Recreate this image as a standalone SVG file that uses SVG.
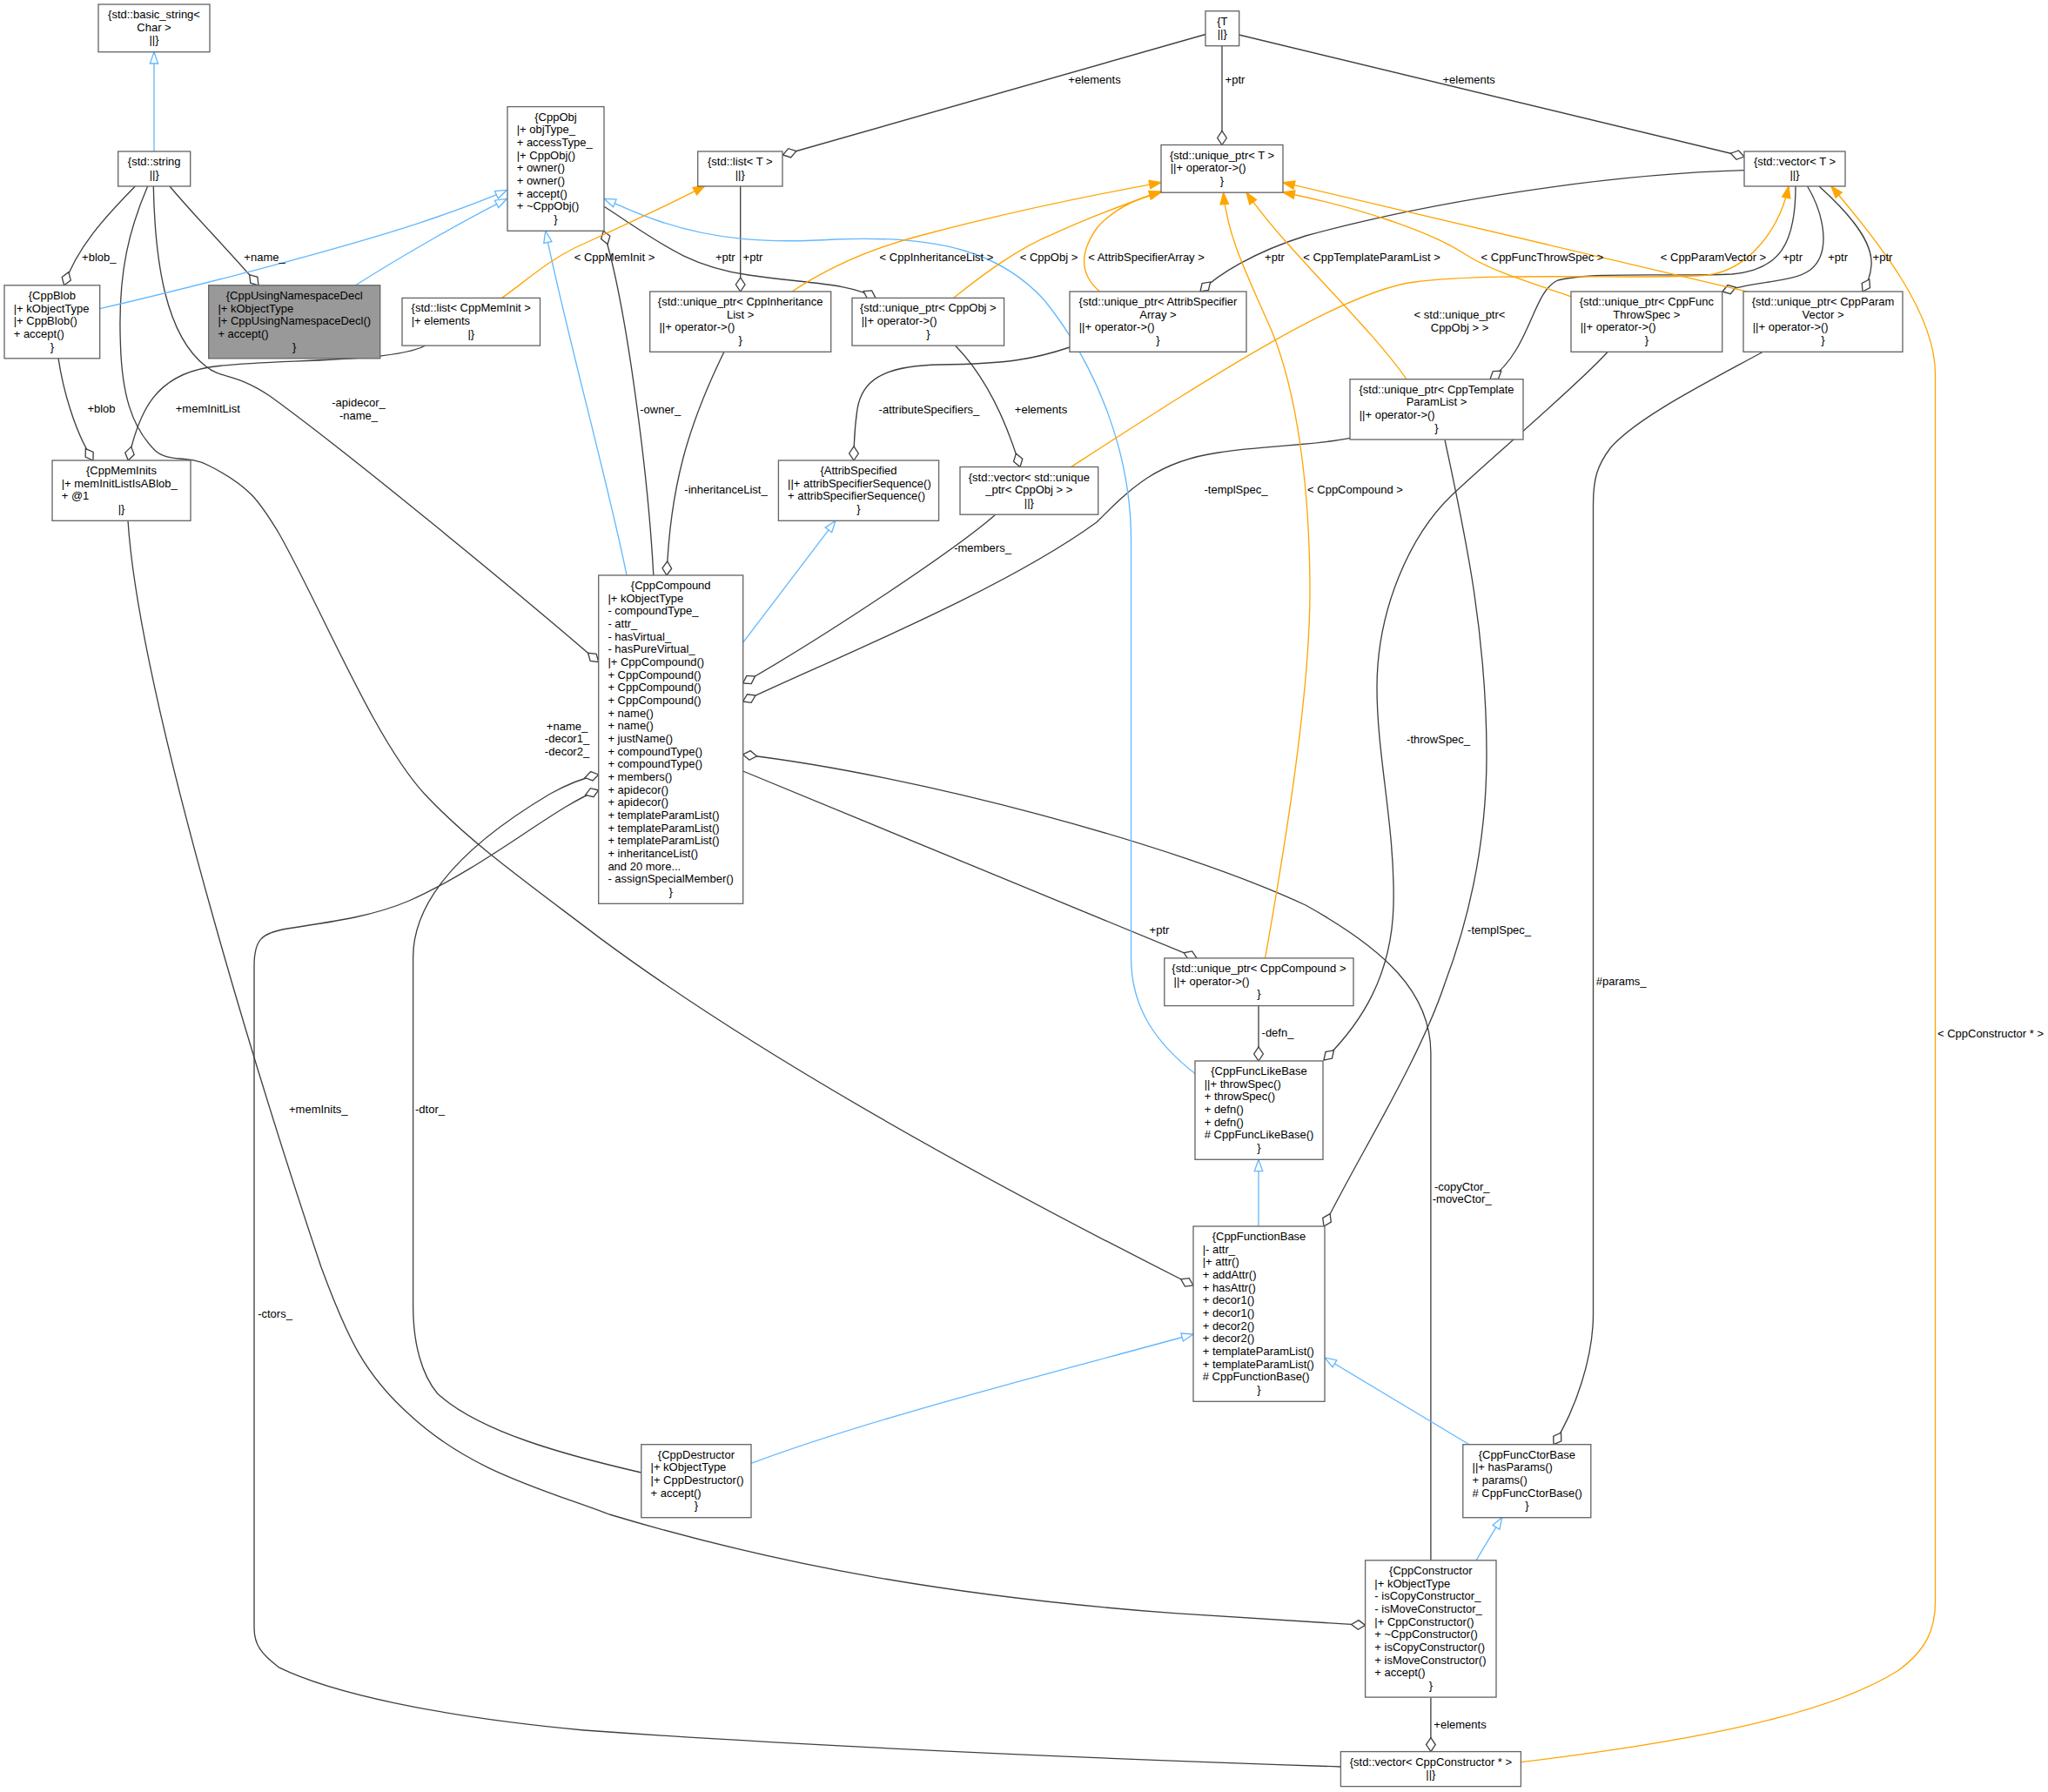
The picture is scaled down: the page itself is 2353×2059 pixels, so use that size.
<svg xmlns="http://www.w3.org/2000/svg" width="2353" height="2059" viewBox="0 0 2353 2059">
<style>
.n rect{fill:#ffffff;stroke:#666666;stroke-width:1.33}
.n.hl rect{fill:#999999}
text{font-family:"Liberation Sans",Arial,Helvetica,sans-serif;font-size:13px;fill:#000000}
.c{text-anchor:middle}
.e path{fill:none;stroke-width:1.33}
.e .u{stroke:#404040;marker-end:url(#dia)}
.e .i{stroke:#63b8ff;marker-end:url(#tri)}
.e .t{stroke:#ffa500;marker-end:url(#tro)}
</style>
<defs>
<marker id="dia" markerUnits="userSpaceOnUse" orient="auto" overflow="visible" refX="0" refY="0" markerWidth="1" markerHeight="1"><path d="M0,0 L-8,-5.33 L-16,0 L-8,5.33 Z" fill="#ffffff" stroke="#404040" stroke-width="1.33"/></marker>
<marker id="tri" markerUnits="userSpaceOnUse" orient="auto" overflow="visible" refX="0" refY="0" markerWidth="1" markerHeight="1"><path d="M0,0 L-13.33,-4.67 L-13.33,4.67 Z" fill="#ffffff" stroke="#63b8ff" stroke-width="1.33"/></marker>
<marker id="tro" markerUnits="userSpaceOnUse" orient="auto" overflow="visible" refX="0" refY="0" markerWidth="1" markerHeight="1"><path d="M0,0 L-13.33,-4.67 L-13.33,4.67 Z" fill="#ffa500" stroke="#ffa500" stroke-width="1.33"/></marker>
</defs>
<rect width="2353" height="2059" fill="#ffffff"/>
<g id="edges" class="e">
<path class="i" d="M177,174 L177,59.7"/>
<path class="u" d="M155.3,214 C120,250 88,285 73.7,327.8"/>
<path class="u" d="M195,214 C225,250 265,290 297,327.8"/>
<path class="u" d="M176.3,214 C178,300 190,385 236.6,421 C255,436 270,428 310,455 C400,520 600,685 687.7,760.7"/>
<path class="u" d="M169.6,214 C150,260 135,310 138.4,395 C140,450 150,490 178.6,518 C195,532 215,522 240,535 C290,560 300,580 320,612 C370,700 430,850 488,912.5 C540,968 600,1010 689,1077.6 C800,1160 1000,1290 1371,1477"/>
<path class="u" d="M67,411.6 C72,445 85,495 107,529"/>
<path class="u" d="M488.8,397 C450,418 300,412 240,422 C180,432 160,470 147.3,529"/>
<path class="u" d="M147,598.3 C160,800 300,1250 369,1456 C400,1540 420,1580 470,1625 C540,1690 620,1710 700,1740 C900,1800 1100,1835 1350,1853.7 C1450,1860 1510,1864 1568.6,1867.4"/>
<path class="u" d="M750.8,661 C745,550 720,350 693.3,265.3"/>
<path class="u" d="M694,237.3 C760,280 790,306 860,316 C930,326 975,325 1006,342.4"/>
<path class="u" d="M850.7,213.3 L850.7,335"/>
<path class="u" d="M1385,39.5 L899.5,178"/>
<path class="u" d="M1404,52.7 L1404,166.5"/>
<path class="u" d="M1423.5,40 L2004,180"/>
<path class="u" d="M831.7,404.7 C790,490 770,560 766,661"/>
<path class="u" d="M1229,399 C1190,412 1160,418 1080,419 C1010,420 990,440 985,470 C982,490 981,510 981,529"/>
<path class="u" d="M1097.5,397 C1130,430 1155,480 1172,536.5"/>
<path class="u" d="M1144,591 C1100,630 950,730 853.6,785"/>
<path class="u" d="M1551,503.4 C1510,512 1450,512 1400,520 C1330,530 1300,560 1260,600 C1150,680 950,760 853.6,806"/>
<path class="u" d="M853.6,886 L1375,1100.9"/>
<path class="u" d="M1643.9,1792.8 L1643.9,1210 C1643.9,1140 1590,1090 1500,1040 C1350,970 1050,890 853.6,867"/>
<path class="u" d="M1643.9,1950.6 L1643.9,2012.6"/>
<path class="u" d="M1446,1155.6 L1446,1219"/>
<path class="u" d="M1847,404.5 C1810,445 1720,520 1668,569 C1620,615 1582,700 1582,790 C1582,870 1603,950 1601,1040 C1599,1120 1565,1175 1521,1218"/>
<path class="u" d="M1660,505.3 C1680,600 1708,720 1708,868 C1708,960 1690,1050 1660,1130 C1630,1220 1560,1330 1521,1409"/>
<path class="u" d="M2025,404.5 C1960,440 1880,480 1850,515 C1835,535 1830.5,550 1830.5,580 L1830.5,1510 C1830.5,1560 1810,1620 1785,1659.7"/>
<path class="u" d="M2004,195.7 C1850,200 1650,230 1500,271 C1440,290 1400,315 1379,335"/>
<path class="u" d="M2063,214 C2063,280 2045,310 1990,315 C1920,318 1830,312 1790,322 C1760,335 1760,400 1712,435.7"/>
<path class="u" d="M2076.6,214 C2095,245 2105,290 2080,310 C2060,325 2020,322 1979,335"/>
<path class="u" d="M2090,214 C2130,250 2152,280 2150,305 C2149,318 2145,326 2140,335"/>
<path class="u" d="M736.8,1692 C650,1672 550,1645 502.5,1601 C485,1580 474.6,1545 474.6,1500 L474.6,1100 C474.6,1020 560,955 631.4,912.5 C650,902 670,894 687.7,890"/>
<path class="u" d="M1540.4,2030 C1300,2022 950,2008 671,1988 C500,1972 380,1945 320,1915.6 C300,1900 292,1890 292,1870 L292,1110 C292,1080 300,1072 330,1067 C390,1058 430,1052 470,1035 C560,995 640,925 687.7,908"/>
<path class="i" d="M114.7,354.7 C200,335 400,285 500,250 C540,236 570,224 582.5,218.3"/>
<path class="i" d="M408.5,327.8 C460,295 530,255 582.5,228.3"/>
<path class="i" d="M720,661 C700,560 650,380 626.7,265.3"/>
<path class="i" d="M1373.5,1234 C1330,1200 1299.5,1160 1299.5,1100 L1299.5,620 C1299.5,520 1260,420 1200,345 C1150,290 1080,270 960,275 C880,280 820,275 760,255 C730,245 710,235 694,228.3"/>
<path class="i" d="M853.6,738.4 L960,598.3"/>
<path class="i" d="M1446,1409 L1446,1332.3"/>
<path class="i" d="M863,1681.4 C1000,1630 1200,1580 1371,1533"/>
<path class="i" d="M1688,1659.7 L1522,1560"/>
<path class="i" d="M1696,1792.8 L1725.8,1743.4"/>
<path class="t" d="M576.7,342.4 C610,318 630,300 660,285 C710,262 770,235 810,213.3"/>
<path class="t" d="M910,335 C940,315 990,288 1060,270 C1150,246 1250,225 1334,209.6"/>
<path class="t" d="M1095.4,342.4 C1130,315 1170,285 1210,268.9 C1250,250 1300,232 1334,220"/>
<path class="t" d="M1263.8,335.3 C1240,315 1240,290 1261,261 C1280,240 1305,228 1334,221"/>
<path class="t" d="M1453.6,1100.9 C1475,980 1505,800 1505,680 C1505,560 1490,450 1461,380 C1430,310 1410,270 1405.6,221.2"/>
<path class="t" d="M1616,435.7 C1570,370 1480,290 1432,221.2"/>
<path class="t" d="M1805,340.8 C1750,322 1710,310 1680,290 C1640,265 1560,238 1474,221"/>
<path class="t" d="M2008.6,335.3 L1474,209.6"/>
<path class="t" d="M1230.6,536.5 C1380,440 1540,335 1625,324 C1720,312 1900,322 1962,316 C2010,310 2045,262 2055,214"/>
<path class="t" d="M1747.3,2024.7 C1950,2000 2100,1970 2180,1920 C2215,1895 2223.5,1870 2223.5,1840 L2223.5,430 C2223.5,360 2160,280 2104,214"/>
<g id="edge-labels">
<text class="c" x="113.8" y="300.3">+blob_</text>
<text class="c" x="304" y="300.3">+name_</text>
<text class="c" x="412" y="467">-apidecor_</text>
<text class="c" x="412" y="481.7">-name_</text>
<text class="c" x="116.5" y="474.2">+blob</text>
<text class="c" x="238.8" y="474.2">+memInitList</text>
<text class="c" x="706" y="300.3">&lt; CppMemInit &gt;</text>
<text class="c" x="833.3" y="300.3">+ptr</text>
<text class="c" x="865" y="300.3">+ptr</text>
<text class="c" x="1257.5" y="95.5">+elements</text>
<text class="c" x="1419" y="95.5">+ptr</text>
<text class="c" x="1687.7" y="95.5">+elements</text>
<text class="c" x="1076" y="300.3">&lt; CppInheritanceList &gt;</text>
<text class="c" x="1205" y="300.3">&lt; CppObj &gt;</text>
<text class="c" x="1317" y="300.3">&lt; AttribSpecifierArray &gt;</text>
<text class="c" x="1464.5" y="300.3">+ptr</text>
<text class="c" x="1576" y="300.3">&lt; CppTemplateParamList &gt;</text>
<text class="c" x="1772" y="300.3">&lt; CppFuncThrowSpec &gt;</text>
<text class="c" x="1968.5" y="300.3">&lt; CppParamVector &gt;</text>
<text class="c" x="2059.6" y="300.3">+ptr</text>
<text class="c" x="2111.6" y="300.3">+ptr</text>
<text class="c" x="2163" y="300.3">+ptr</text>
<text class="c" x="1677" y="366.3">&lt; std::unique_ptr&lt;</text>
<text class="c" x="1677" y="380.9">CppObj &gt; &gt;</text>
<text class="c" x="758.7" y="474.9">-owner_</text>
<text class="c" x="1067.4" y="474.5">-attributeSpecifiers_</text>
<text class="c" x="1196" y="474.5">+elements</text>
<text class="c" x="834" y="566.8">-inheritanceList_</text>
<text class="c" x="1420" y="566.8">-templSpec_</text>
<text class="c" x="1557" y="567">&lt; CppCompound &gt;</text>
<text class="c" x="1129" y="633.5">-members_</text>
<text class="c" x="651.5" y="838.9">+name_</text>
<text class="c" x="651.5" y="853.1">-decor1_</text>
<text class="c" x="651.5" y="867.9">-decor2_</text>
<text class="c" x="1652.6" y="853.5">-throwSpec_</text>
<text class="c" x="1722.6" y="1073.3">-templSpec_</text>
<text class="c" x="1862.7" y="1131.5">#params_</text>
<text class="c" x="1332" y="1073.2">+ptr</text>
<text class="c" x="1468" y="1191.2">-defn_</text>
<text class="c" x="1679.7" y="1367.5">-copyCtor_</text>
<text class="c" x="1679.7" y="1382">-moveCtor_</text>
<text class="c" x="365.8" y="1278.5">+memInits_</text>
<text class="c" x="494" y="1278.5">-dtor_</text>
<text class="c" x="316" y="1513.5">-ctors_</text>
<text class="c" x="1677.5" y="1985.5">+elements</text>
<text class="c" x="2287" y="1191.5">&lt; CppConstructor * &gt;</text>
</g>
</g>
<g id="node-basic_string" class="n"><rect x="113" y="5" width="128" height="54.7"/>
<text class="c" x="177" y="21">{std::basic_string&lt;</text><text class="c" x="177" y="35.7">Char &gt;</text><text class="c" x="177" y="50.3">||}</text></g>
<g id="node-string" class="n"><rect x="135.7" y="174" width="83" height="40"/>
<text class="c" x="177.2" y="190">{std::string</text><text class="c" x="177.2" y="204.7">||}</text></g>
<g id="node-T" class="n"><rect x="1385" y="12.7" width="38.7" height="40"/>
<text class="c" x="1404.3" y="28.7">{T</text><text class="c" x="1404.3" y="43.4">||}</text></g>
<g id="node-listT" class="n"><rect x="801.7" y="174" width="97.3" height="40"/>
<text class="c" x="850.3" y="190">{std::list&lt; T &gt;</text><text class="c" x="850.3" y="204.7">||}</text></g>
<g id="node-uptrT" class="n"><rect x="1334" y="166.5" width="140" height="54.7"/>
<text class="c" x="1404" y="182.5">{std::unique_ptr&lt; T &gt;</text><text x="1344.7" y="197.2">||+ operator-&gt;()</text><text class="c" x="1404" y="211.8">}</text></g>
<g id="node-vecT" class="n"><rect x="2004" y="174" width="116" height="40"/>
<text class="c" x="2062" y="190">{std::vector&lt; T &gt;</text><text class="c" x="2062" y="204.7">||}</text></g>
<g id="node-CppObj" class="n"><rect x="583" y="122.6" width="111" height="142.7"/>
<text class="c" x="638.5" y="138.6">{CppObj</text>
<text x="593.7" y="153.3">|+ objType_</text>
<text x="593.7" y="167.9">+ accessType_</text>
<text x="593.7" y="182.6">|+ CppObj()</text>
<text x="593.7" y="197.3">+ owner()</text>
<text x="593.7" y="211.9">+ owner()</text>
<text x="593.7" y="226.6">+ accept()</text>
<text x="593.7" y="241.3">+ ~CppObj()</text>
<text class="c" x="638.5" y="255.9">}</text></g>
<g id="node-CppBlob" class="n"><rect x="5" y="327.8" width="109.7" height="84"/>
<text class="c" x="59.85" y="343.8">{CppBlob</text>
<text x="15.7" y="358.5">|+ kObjectType</text>
<text x="15.7" y="373.1">|+ CppBlob()</text>
<text x="15.7" y="387.8">+ accept()</text>
<text class="c" x="59.85" y="402.5">}</text></g>
<g id="node-CppUsingNamespaceDecl" class="n hl"><rect x="239.7" y="327.8" width="197" height="84"/>
<text class="c" x="338.2" y="343.8">{CppUsingNamespaceDecl</text>
<text x="250.4" y="358.5">|+ kObjectType</text>
<text x="250.4" y="373.1">|+ CppUsingNamespaceDecl()</text>
<text x="250.4" y="387.8">+ accept()</text>
<text class="c" x="338.2" y="402.5">}</text></g>
<g id="node-listMemInit" class="n"><rect x="462" y="342.4" width="158.5" height="54.7"/>
<text class="c" x="541.25" y="358.4">{std::list&lt; CppMemInit &gt;</text>
<text x="472.7" y="373.1">|+ elements</text>
<text class="c" x="541.25" y="387.7">|}</text></g>
<g id="node-uptrInheritanceList" class="n"><rect x="746.7" y="335" width="208" height="69.3"/>
<text class="c" x="850.7" y="351">{std::unique_ptr&lt; CppInheritance</text>
<text class="c" x="850.7" y="365.7">List &gt;</text>
<text x="757.4" y="380.3">||+ operator-&gt;()</text>
<text class="c" x="850.7" y="395">}</text></g>
<g id="node-uptrCppObj" class="n"><rect x="979" y="342.4" width="174.6" height="54.7"/>
<text class="c" x="1066.3" y="358.4">{std::unique_ptr&lt; CppObj &gt;</text>
<text x="989.7" y="373.1">||+ operator-&gt;()</text>
<text class="c" x="1066.3" y="387.7">}</text></g>
<g id="node-uptrAttribSpecifierArray" class="n"><rect x="1229" y="335" width="203" height="69.3"/>
<text class="c" x="1330.5" y="351">{std::unique_ptr&lt; AttribSpecifier</text>
<text class="c" x="1330.5" y="365.7">Array &gt;</text>
<text x="1239.7" y="380.3">||+ operator-&gt;()</text>
<text class="c" x="1330.5" y="395">}</text></g>
<g id="node-uptrThrowSpec" class="n"><rect x="1805" y="335" width="173.7" height="69.3"/>
<text class="c" x="1891.85" y="351">{std::unique_ptr&lt; CppFunc</text>
<text class="c" x="1891.85" y="365.7">ThrowSpec &gt;</text>
<text x="1815.7" y="380.3">||+ operator-&gt;()</text>
<text class="c" x="1891.85" y="395">}</text></g>
<g id="node-uptrParamVector" class="n"><rect x="2003" y="335" width="183" height="69.3"/>
<text class="c" x="2094.5" y="351">{std::unique_ptr&lt; CppParam</text>
<text class="c" x="2094.5" y="365.7">Vector &gt;</text>
<text x="2013.7" y="380.3">||+ operator-&gt;()</text>
<text class="c" x="2094.5" y="395">}</text></g>
<g id="node-uptrTemplateParamList" class="n"><rect x="1551" y="435.7" width="199" height="69.3"/>
<text class="c" x="1650.5" y="451.7">{std::unique_ptr&lt; CppTemplate</text>
<text class="c" x="1650.5" y="466.4">ParamList &gt;</text>
<text x="1561.7" y="481">||+ operator-&gt;()</text>
<text class="c" x="1650.5" y="495.7">}</text></g>
<g id="node-CppMemInits" class="n"><rect x="60" y="529" width="159" height="69.3"/>
<text class="c" x="139.5" y="545">{CppMemInits</text>
<text x="70.7" y="559.7">|+ memInitListIsABlob_</text>
<text x="70.7" y="574.3">+ @1</text>
<text class="c" x="139.5" y="589">|}</text></g>
<g id="node-AttribSpecified" class="n"><rect x="894.4" y="529" width="184.2" height="69.3"/>
<text class="c" x="986.5" y="545">{AttribSpecified</text>
<text x="905.1" y="559.7">||+ attribSpecifierSequence()</text>
<text x="905.1" y="574.3">+ attribSpecifierSequence()</text>
<text class="c" x="986.5" y="589">}</text></g>
<g id="node-vecUptrCppObj" class="n"><rect x="1103" y="536.5" width="158.7" height="54.7"/>
<text class="c" x="1182.35" y="552.5">{std::vector&lt; std::unique</text>
<text class="c" x="1182.35" y="567.2">_ptr&lt; CppObj &gt; &gt;</text>
<text class="c" x="1182.35" y="581.8">||}</text></g>
<g id="node-CppCompound" class="n"><rect x="687.7" y="661" width="166" height="377.3"/>
<text class="c" x="770.7" y="677">{CppCompound</text>
<text x="698.4" y="691.7">|+ kObjectType</text>
<text x="698.4" y="706.3">- compoundType_</text>
<text x="698.4" y="721">- attr_</text>
<text x="698.4" y="735.7">- hasVirtual_</text>
<text x="698.4" y="750.3">- hasPureVirtual_</text>
<text x="698.4" y="765">|+ CppCompound()</text>
<text x="698.4" y="779.7">+ CppCompound()</text>
<text x="698.4" y="794.3">+ CppCompound()</text>
<text x="698.4" y="809">+ CppCompound()</text>
<text x="698.4" y="823.7">+ name()</text>
<text x="698.4" y="838.3">+ name()</text>
<text x="698.4" y="853">+ justName()</text>
<text x="698.4" y="867.7">+ compoundType()</text>
<text x="698.4" y="882.3">+ compoundType()</text>
<text x="698.4" y="897">+ members()</text>
<text x="698.4" y="911.7">+ apidecor()</text>
<text x="698.4" y="926.3">+ apidecor()</text>
<text x="698.4" y="941">+ templateParamList()</text>
<text x="698.4" y="955.7">+ templateParamList()</text>
<text x="698.4" y="970.3">+ templateParamList()</text>
<text x="698.4" y="985">+ inheritanceList()</text>
<text x="698.4" y="999.7">and 20 more...</text>
<text x="698.4" y="1014.3">- assignSpecialMember()</text>
<text class="c" x="770.7" y="1029">}</text></g>
<g id="node-uptrCppCompound" class="n"><rect x="1337.8" y="1100.9" width="217.2" height="54.7"/>
<text class="c" x="1446.4" y="1116.9">{std::unique_ptr&lt; CppCompound &gt;</text>
<text x="1348.5" y="1131.6">||+ operator-&gt;()</text>
<text class="c" x="1446.4" y="1146.2">}</text></g>
<g id="node-CppFuncLikeBase" class="n"><rect x="1373" y="1219" width="147" height="113.3"/>
<text class="c" x="1446.5" y="1235">{CppFuncLikeBase</text>
<text x="1383.7" y="1249.7">||+ throwSpec()</text>
<text x="1383.7" y="1264.3">+ throwSpec()</text>
<text x="1383.7" y="1279">+ defn()</text>
<text x="1383.7" y="1293.7">+ defn()</text>
<text x="1383.7" y="1308.3"># CppFuncLikeBase()</text>
<text class="c" x="1446.5" y="1323">}</text></g>
<g id="node-CppFunctionBase" class="n"><rect x="1371" y="1409" width="151" height="201.3"/>
<text class="c" x="1446.5" y="1425">{CppFunctionBase</text>
<text x="1381.7" y="1439.7">|- attr_</text>
<text x="1381.7" y="1454.3">|+ attr()</text>
<text x="1381.7" y="1469">+ addAttr()</text>
<text x="1381.7" y="1483.7">+ hasAttr()</text>
<text x="1381.7" y="1498.3">+ decor1()</text>
<text x="1381.7" y="1513">+ decor1()</text>
<text x="1381.7" y="1527.7">+ decor2()</text>
<text x="1381.7" y="1542.3">+ decor2()</text>
<text x="1381.7" y="1557">+ templateParamList()</text>
<text x="1381.7" y="1571.7">+ templateParamList()</text>
<text x="1381.7" y="1586.3"># CppFunctionBase()</text>
<text class="c" x="1446.5" y="1601">}</text></g>
<g id="node-CppDestructor" class="n"><rect x="736.8" y="1659.7" width="126.2" height="84"/>
<text class="c" x="799.9" y="1675.7">{CppDestructor</text>
<text x="747.5" y="1690.4">|+ kObjectType</text>
<text x="747.5" y="1705">|+ CppDestructor()</text>
<text x="747.5" y="1719.7">+ accept()</text>
<text class="c" x="799.9" y="1734.4">}</text></g>
<g id="node-CppFuncCtorBase" class="n"><rect x="1680.8" y="1659.7" width="147" height="84"/>
<text class="c" x="1754.3" y="1675.7">{CppFuncCtorBase</text>
<text x="1691.5" y="1690.4">||+ hasParams()</text>
<text x="1691.5" y="1705">+ params()</text>
<text x="1691.5" y="1719.7"># CppFuncCtorBase()</text>
<text class="c" x="1754.3" y="1734.4">}</text></g>
<g id="node-CppConstructor" class="n"><rect x="1568.6" y="1792.8" width="150.4" height="157.3"/>
<text class="c" x="1643.8" y="1808.8">{CppConstructor</text>
<text x="1579.3" y="1823.5">|+ kObjectType</text>
<text x="1579.3" y="1838.1">- isCopyConstructor_</text>
<text x="1579.3" y="1852.8">- isMoveConstructor_</text>
<text x="1579.3" y="1867.5">|+ CppConstructor()</text>
<text x="1579.3" y="1882.1">+ ~CppConstructor()</text>
<text x="1579.3" y="1896.8">+ isCopyConstructor()</text>
<text x="1579.3" y="1911.5">+ isMoveConstructor()</text>
<text x="1579.3" y="1926.1">+ accept()</text>
<text class="c" x="1643.8" y="1940.8">}</text></g>
<g id="node-vecCppConstructor" class="n"><rect x="1540.4" y="2012.6" width="207" height="40"/>
<text class="c" x="1643.9" y="2028.6">{std::vector&lt; CppConstructor * &gt;</text>
<text class="c" x="1643.9" y="2043.3">||}</text></g>
</svg>
